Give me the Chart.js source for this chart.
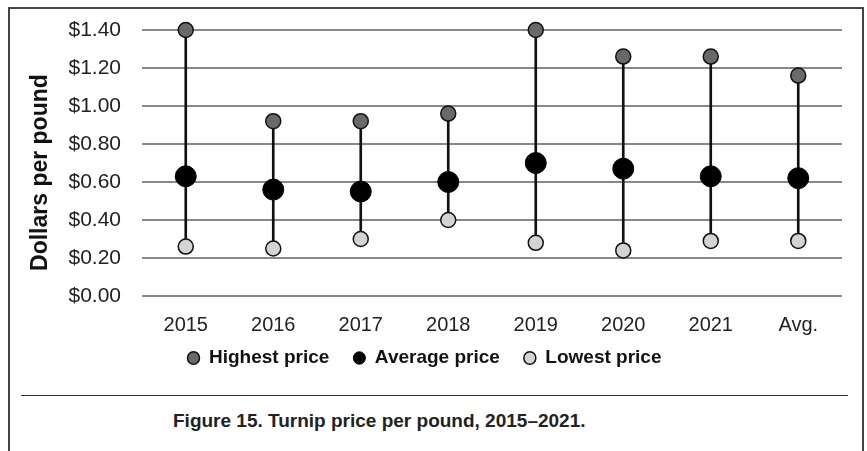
<!DOCTYPE html>
<html><head><meta charset="utf-8">
<script src="https://cdn.jsdelivr.net/npm/chart.js@4.4.1/dist/chart.umd.min.js"></script>
<style>
html,body{margin:0;padding:0;background:#fff;width:867px;height:451px;overflow:hidden;font-family:"Liberation Sans",Arial,sans-serif;}
#frame{position:absolute;left:8px;top:7px;width:852px;height:470px;border:2px solid #444;border-bottom:none;}
#wrap{position:absolute;left:0;top:0;width:867px;height:390px;}
#sep{position:absolute;left:21px;top:395px;width:827px;height:0;border-top:1.5px solid #333;}
#cap{position:absolute;left:173px;top:410px;font-weight:bold;font-size:19px;color:#222;white-space:nowrap;}
</style></head>
<body>
<div id="frame"></div>
<div id="wrap"><canvas id="c"></canvas></div>
<div id="sep"></div>
<div id="cap">Figure 15. Turnip price per pound, 2015–2021.</div>
<script>
const categories = ['2015','2016','2017','2018','2019','2020','2021','Avg.'];
const highest = [1.40, 0.92, 0.92, 0.96, 1.40, 1.26, 1.26, 1.16];
const average = [0.63, 0.56, 0.55, 0.60, 0.70, 0.67, 0.63, 0.62];
const lowest  = [0.26, 0.25, 0.30, 0.40, 0.28, 0.24, 0.29, 0.29];
const yTickValues = [0, 0.2, 0.4, 0.6, 0.8, 1.0, 1.2, 1.4];

const ranges = categories.map((c, i) => [lowest[i], highest[i]]);
const FONT = '"Liberation Sans", Arial, sans-serif';

const legendShift = {
  id: 'legendShift',
  afterLayout(chart) {
    const lg = chart.legend;
    if (!lg) return;
    const h = lg.bottom - lg.top;
    lg.top = 324.5; lg.bottom = lg.top + h;
    lg.left -= 10; lg.right -= 10;
  }
};

new Chart(document.getElementById('c'), {
  type: 'bar',
  data: {
    labels: categories,
    datasets: [
      { type: 'line', label: 'Highest price', data: highest, showLine: false, order: 1,
        pointRadius: 7.5, pointHoverRadius: 7.5, pointBackgroundColor: '#696969', pointBorderColor: '#111',
        pointBorderWidth: 1.5, backgroundColor: '#696969', borderColor: '#111', borderWidth: 1.5 },
      { type: 'line', label: 'Average price', data: average, showLine: false, order: 0,
        pointRadius: 10.5, pointHoverRadius: 10.5, pointBackgroundColor: '#000', pointBorderColor: '#000',
        pointBorderWidth: 1, backgroundColor: '#000', borderColor: '#000', borderWidth: 1 },
      { type: 'line', label: 'Lowest price', data: lowest, showLine: false, order: 2,
        pointRadius: 7.5, pointHoverRadius: 7.5, pointBackgroundColor: '#d3d3d3', pointBorderColor: '#111',
        pointBorderWidth: 1.5, backgroundColor: '#d3d3d3', borderColor: '#111', borderWidth: 1.5 },
      { type: 'bar', label: 'range', data: ranges, order: 10, backgroundColor: '#111',
        barThickness: 2, borderWidth: 0 }
    ]
  },
  options: {
    responsive: true, maintainAspectRatio: false, animation: false,
    clip: false,
    layout: { padding: { left: 27, right: 25, top: 30, bottom: 0 } },
    plugins: {
      tooltip: { enabled: false },
      legend: {
        position: 'bottom',
        labels: {
          filter: (item) => item.text !== 'range',
          sort: (a, b) => a.datasetIndex - b.datasetIndex,
          usePointStyle: true, pointStyle: 'circle',
          boxWidth: 12, boxHeight: 8.8, pointStyleWidth: 12,
          padding: 24, color: '#111',
          font: { family: FONT, size: 19, weight: 'bold' }
        }
      }
    },
    scales: {
      x: {
        grid: { display: false, drawTicks: false }, border: { display: false },
        ticks: { color: '#222', padding: 17, font: { family: FONT, size: 20 } },
        afterFit: (s) => { s.height = 41; }
      },
      y: {
        min: 0, max: 1.4,
        afterBuildTicks: (s) => { s.ticks = yTickValues.map(v => ({ value: v })); },
        afterFit: (s) => { s.width = 115; },
        grid: { color: '#888', lineWidth: 2, drawTicks: false },
        border: { display: false },
        ticks: { color: '#222', padding: 21, font: { family: FONT, size: 21, lineHeight: 0.85 },
          callback: (v) => '$' + Number(v).toFixed(2) },
        title: { display: true, text: 'Dollars per pound\u00A0\u00A0\u00A0', color: '#111', padding: 0,
          font: { family: FONT, size: 23, weight: 'bold' } }
      }
    }
  },
  plugins: [legendShift]
});
</script>
</body></html>
